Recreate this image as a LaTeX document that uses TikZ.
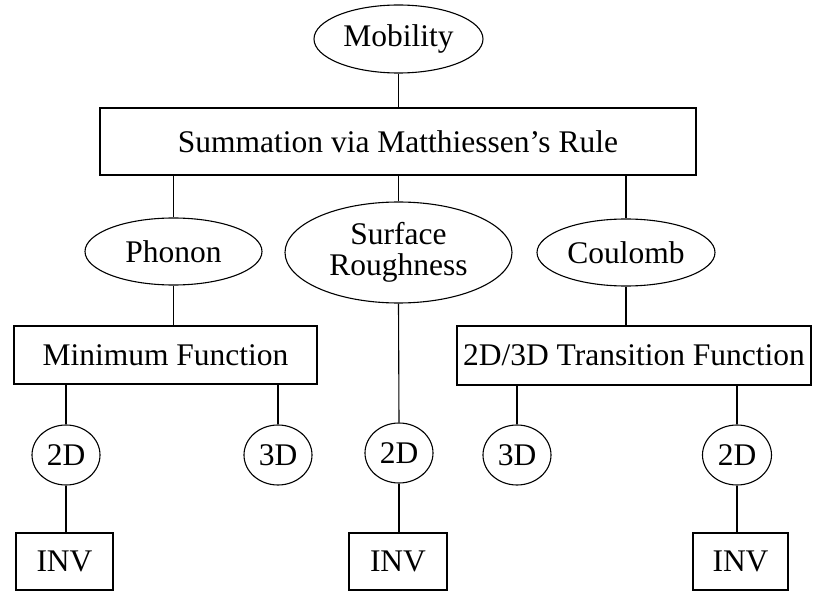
\documentclass[tikz,border=0pt]{standalone}
\usepackage{fontspec}
\setmainfont{Liberation Serif}
\usetikzlibrary{shapes.geometric}
\begin{document}
\begin{tikzpicture}[x=1pt,y=-1pt,
  every node/.style={font=\fontsize{31.5}{31}\selectfont, inner sep=0pt, line width=1.1pt},
  ell/.style={draw, ellipse},
  rbox/.style={draw, rectangle},
  conn/.style={draw, line width=1.1pt}]
\useasboundingbox (0,0) rectangle (815,591);
\node[ell, minimum width=169, minimum height=68] (mob) at (398.5,39) {Mobility};
\node[rbox, minimum width=596, minimum height=67] (sum) at (398,141.5) {Summation via Matthiessen’s Rule};
\node[ell, minimum width=177, minimum height=67] (phon) at (173.5,251.5) {Phonon};
\node[ell, minimum width=227, minimum height=101, align=center] (sr) at (398.5,252.5) {Surface\\Roughness};
\node[ell, minimum width=178, minimum height=67] (coul) at (626,252.5) {Coulomb};
\node[rbox, minimum width=303, minimum height=58] (minf) at (165.5,355) {Minimum Function};
\node[rbox, minimum width=354, minimum height=59] (trans) at (634,355.5) {2D/3D Transition Function};
\node[ell, minimum width=68, minimum height=60] (c2a) at (66,455) {2D};
\node[ell, minimum width=68, minimum height=60] (c3a) at (278,455) {3D};
\node[ell, minimum width=68, minimum height=60] (c2b) at (399,453) {2D};
\node[ell, minimum width=68, minimum height=60] (c3c) at (517,455) {3D};
\node[ell, minimum width=69, minimum height=60] (c2c) at (737,455) {2D};
\node[rbox, minimum width=97, minimum height=57] (inv1) at (64.5,561.5) {INV};
\node[rbox, minimum width=98, minimum height=57] (inv2) at (398,561.5) {INV};
\node[rbox, minimum width=95, minimum height=57] (inv3) at (740.5,561.5) {INV};
\draw[conn] (mob.south) -- (sum.north -| mob.south);
\draw[conn] (phon.north |- sum.south) -- (phon.north);
\draw[conn] (sr.north |- sum.south) -- (sr.north);
\draw[conn] (coul.north |- sum.south) -- (coul.north);
\draw[conn] (phon.south) -- (phon.south |- minf.north);
\draw[conn] (coul.south) -- (coul.south |- trans.north);
\draw[conn] (sr.south) -- (c2b.north);
\draw[conn] (c2a.north |- minf.south) -- (c2a.north);
\draw[conn] (c3a.north |- minf.south) -- (c3a.north);
\draw[conn] (c3c.north |- trans.south) -- (c3c.north);
\draw[conn] (c2c.north |- trans.south) -- (c2c.north);
\draw[conn] (c2a.south) -- (c2a.south |- inv1.north);
\draw[conn] (c2b.south) -- (c2b.south |- inv2.north);
\draw[conn] (c2c.south) -- (c2c.south |- inv3.north);
\end{tikzpicture}
\end{document}
